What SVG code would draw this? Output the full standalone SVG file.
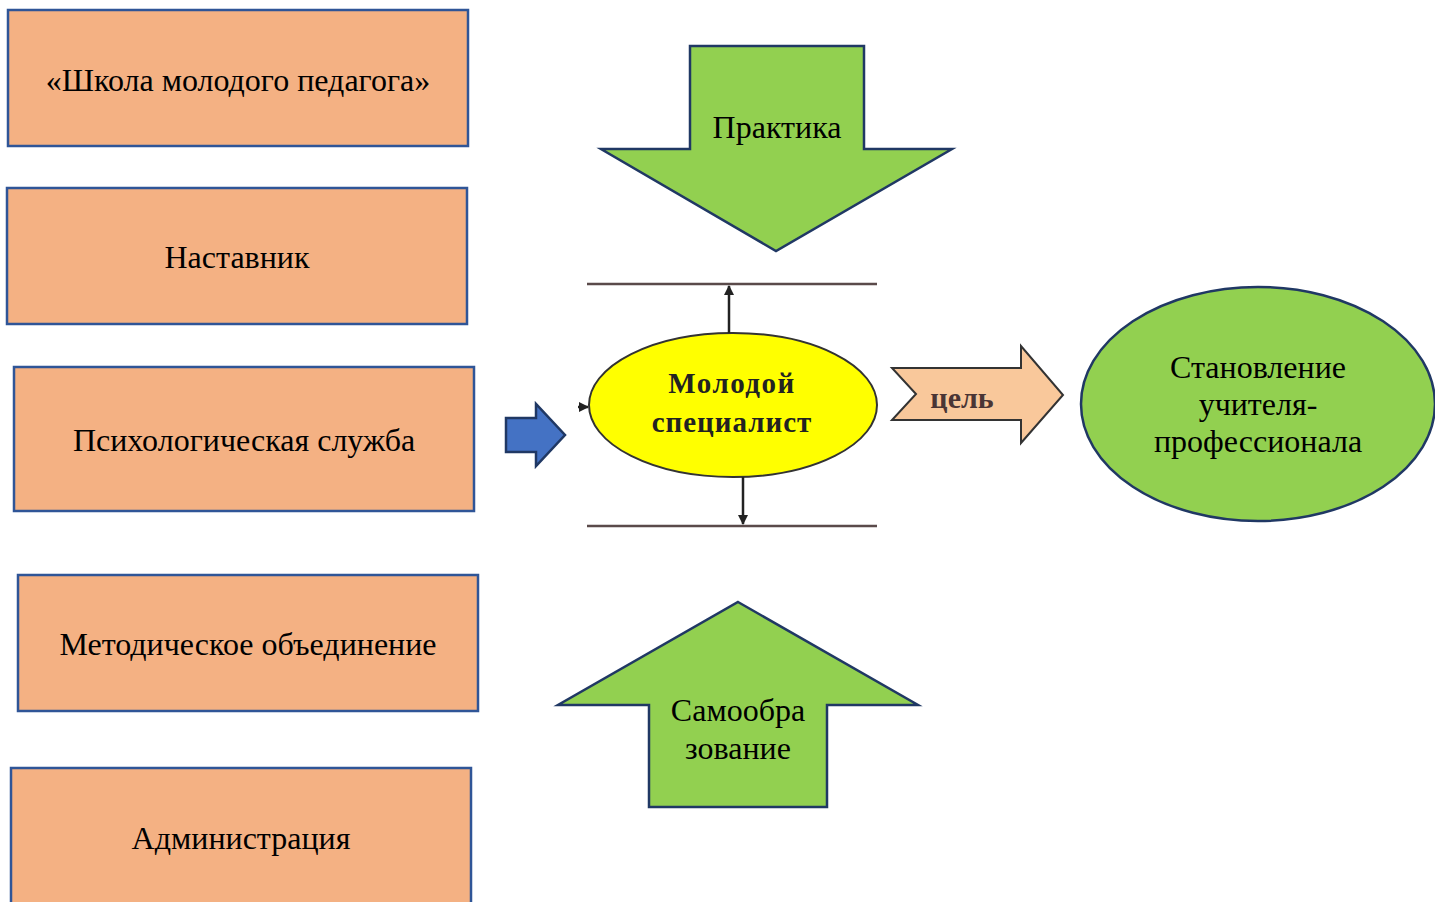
<svg xmlns="http://www.w3.org/2000/svg" width="1435" height="902" viewBox="0 0 1435 902">
<defs>
<style>
.box{fill:#F4B183;stroke:#2F5597;stroke-width:2.5}
.t{font-family:"Liberation Serif","Times New Roman",serif;font-size:32px;fill:#000;text-anchor:middle}
.garrow{fill:#92D050;stroke:#203864;stroke-width:2.5;stroke-linejoin:miter}
.ln{stroke:#222;stroke-width:2.5;fill:none}
.hl{stroke:#5a4a4a;stroke-width:2.5;fill:none}
</style>
<marker id="ah" viewBox="0 0 10 10" refX="9" refY="5" markerWidth="4" markerHeight="4" orient="auto"><path d="M0,0 L10,5 L0,10 z" fill="#222"/></marker>
</defs>
<rect width="1435" height="902" fill="#fff"/>
<g id="node-school"><rect class="box" x="8" y="10" width="460" height="136"/><text class="t" x="238" y="91">«Школа молодого педагога»</text></g>
<g id="node-mentor"><rect class="box" x="7" y="188" width="460" height="136"/><text class="t" x="237" y="268">Наставник</text></g>
<g id="node-psych"><rect class="box" x="14" y="367" width="460" height="144"/><text class="t" x="244" y="451">Психологическая служба</text></g>
<g id="node-method"><rect class="box" x="18" y="575" width="460" height="136"/><text class="t" x="248" y="655">Методическое объединение</text></g>
<g id="node-admin"><rect class="box" x="11" y="768" width="460" height="150"/><text class="t" x="241" y="849">Администрация</text></g>
<g id="node-practice"><polygon class="garrow" points="690,46 864,46 864,149 952,149 776,251 601,149 690,149"/><text class="t" x="777" y="138">Практика</text></g>
<g id="node-self"><polygon class="garrow" points="738,602 918,705 827,705 827,807 649,807 649,705 558,705"/><text class="t" x="738" y="721">Самообра</text><text class="t" x="738" y="759">зование</text></g>
<g id="node-blue"><polygon points="506,418 536,418 536,404 565,435 536,466 536,452 506,452" fill="#4472C4" stroke="#203864" stroke-width="2.5"/></g>
<g id="node-young">
<line class="hl" x1="587" y1="284" x2="877" y2="284"/>
<line class="hl" x1="587" y1="526" x2="877" y2="526"/>
<ellipse cx="733" cy="405" rx="144" ry="72" fill="#FFFF00" stroke="#333" stroke-width="2"/>
<text x="732" y="393" font-family="'Liberation Serif','Times New Roman',serif" font-weight="bold" font-size="29" letter-spacing="1.5" text-anchor="middle" fill="#222">Молодой</text>
<text x="732" y="432" font-family="'Liberation Serif','Times New Roman',serif" font-weight="bold" font-size="29" letter-spacing="1" text-anchor="middle" fill="#222">специалист</text>
</g>
<g id="connectors">
<line class="ln" x1="729" y1="333" x2="729" y2="286" marker-end="url(#ah)"/>
<line class="ln" x1="743" y1="477" x2="743" y2="524" marker-end="url(#ah)"/>
<line class="ln" x1="578" y1="407" x2="588" y2="407" marker-end="url(#ah)"/>
</g>
<g id="node-goal"><polygon points="892,368 1021,368 1021,346 1063,395 1021,443 1021,420 892,420 916,394" fill="#F9C89B" stroke="#333" stroke-width="2"/><text x="962" y="408" font-family="'Liberation Serif','Times New Roman',serif" font-weight="bold" font-size="30" text-anchor="middle" fill="#4a3535">цель</text></g>
<g id="node-become"><ellipse cx="1258" cy="404" rx="177" ry="117" class="garrow"/><text class="t" x="1258" y="378">Становление</text><text class="t" x="1258" y="415">учителя-</text><text class="t" x="1258" y="452">профессионала</text></g>
</svg>
